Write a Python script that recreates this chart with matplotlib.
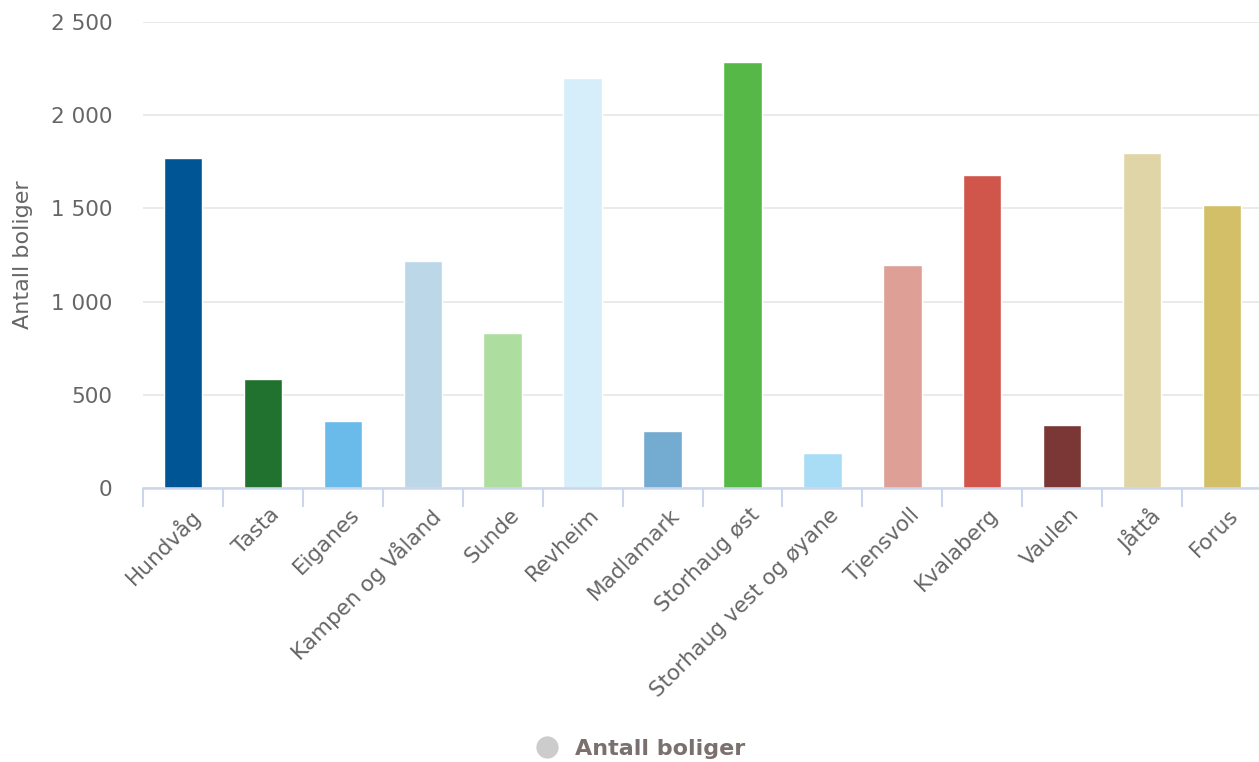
import matplotlib
matplotlib.use("Agg")
import matplotlib.pyplot as plt
from matplotlib.lines import Line2D

# Boliger per delområde
omrader = ["Hundvåg", "Tasta", "Eiganes", "Kampen og Våland", "Sunde", "Revheim",
           "Madlamark", "Storhaug øst", "Storhaug vest og øyane", "Tjensvoll",
           "Kvalaberg", "Vaulen", "Jåttå", "Forus"]
antall = [1772, 587, 362, 1220, 834, 2202, 308, 2287, 190, 1198, 1681, 340, 1799, 1520]
farger = ["#005694", "#21722f", "#6abbea", "#bcd7e8", "#addd9f", "#d6eefa", "#74abd0",
          "#56b947", "#a9ddf5", "#dd9f96", "#d0554b", "#7b3735", "#e0d5a6", "#d2bf68"]
y_ticks = [0, 500, 1000, 1500, 2000, 2500]
y_labels = ["0", "500", "1 000", "1 500", "2 000", "2 500"]

plt.rcParams["font.family"] = ["DejaVu Sans"]

W, H = 1259, 762
fig = plt.figure(figsize=(W / 100, H / 100), dpi=100)
left, right, top, bottom = 143, 1262, 22, 488
ax = fig.add_axes([left / W, 1 - bottom / H, (right - left) / W, (bottom - top) / H])

x = list(range(len(omrader)))
ax.bar(x, antall, width=0.48, color=farger, edgecolor="white", linewidth=1, zorder=3)

ax.set_xlim(-0.5, len(omrader) - 0.5)
ax.set_ylim(0, 2500)

# y-akse
ax.set_yticks(y_ticks)
ax.set_yticklabels(y_labels, color="#666666", fontsize=15.5)
ax.tick_params(axis="y", length=0, pad=22)
ax.grid(axis="y", color="#e6e6e6", linewidth=1.2, zorder=0)
ax.set_ylabel("Antall boliger", color="#666666", fontsize=16)
ax.yaxis.set_label_coords(-110 / (right - left), 0.5)

# x-akse: streker mellom kategoriene, etiketter midt på
ax.set_xticks([i - 0.5 for i in range(len(omrader) + 1)])
ax.set_xticklabels([])
ax.tick_params(axis="x", which="major", length=14, width=1.5, color="#ccd6eb")
ax.set_xticks([i + 0.08 for i in x], minor=True)
ax.set_xticklabels(omrader, minor=True, rotation=45, ha="right",
                   rotation_mode="anchor", color="#666666", fontsize=15.5)
ax.tick_params(axis="x", which="minor", length=0, pad=12)

for side in ["top", "right", "left"]:
    ax.spines[side].set_visible(False)
ax.spines["bottom"].set_color("#ccd6eb")
ax.spines["bottom"].set_linewidth(1.8)
ax.spines["bottom"].set_zorder(4)

handle = Line2D([], [], marker="o", linestyle="none", markersize=15,
                markerfacecolor="#cccccc", markeredgecolor="#cccccc")
leg = fig.legend([handle], ["Antall boliger"], loc="center",
                 bbox_to_anchor=(635 / W, 1 - 749 / H), frameon=False,
                 handletextpad=0.3, prop={"size": 16, "weight": "bold"})
for t in leg.get_texts():
    t.set_color("#7a706e")

fig.savefig("out.png", dpi=100)
